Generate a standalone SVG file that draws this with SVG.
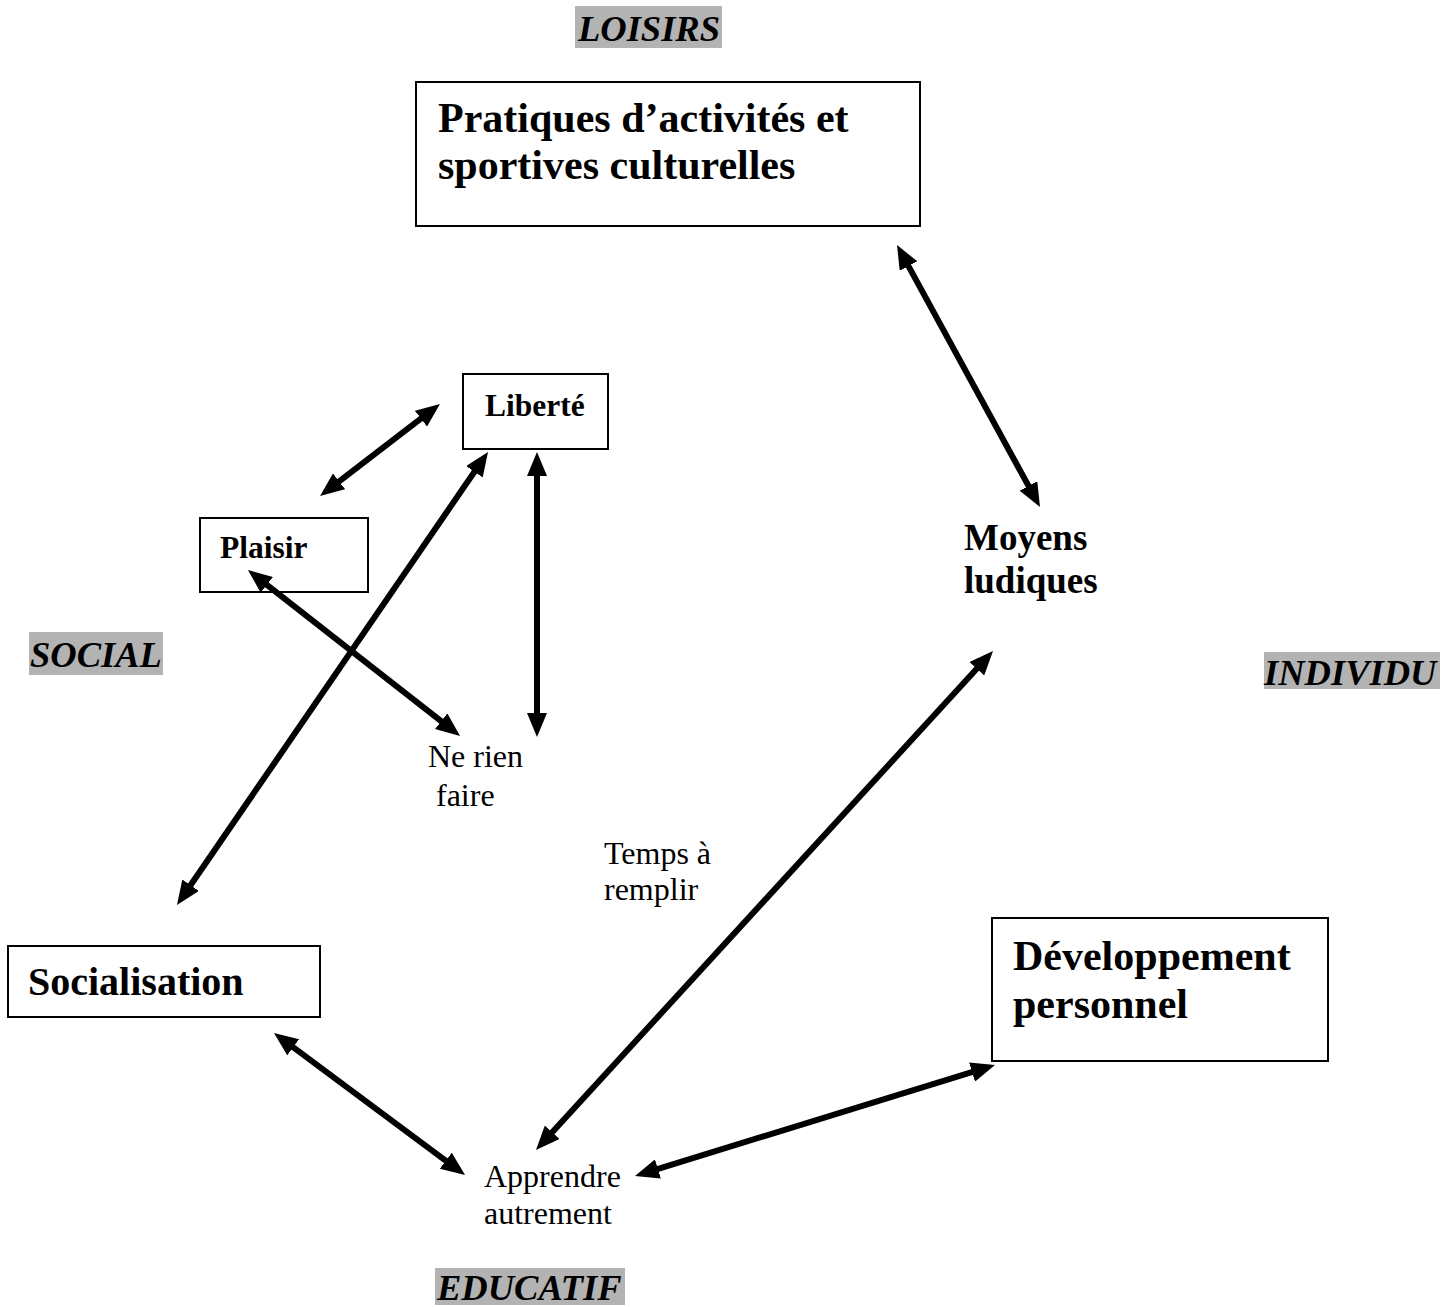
<svg xmlns="http://www.w3.org/2000/svg" width="1454" height="1307" viewBox="0 0 1454 1307">
<defs>
<style>
.box{fill:#fff;stroke:#000;stroke-width:2}
.hl{fill:#b3b3b3}
.cat{font-family:"Liberation Serif",serif;font-weight:bold;font-style:italic;font-size:36.5px;fill:#000}
.big{font-family:"Liberation Serif",serif;font-weight:bold;font-size:42px;fill:#000}
.mid{font-family:"Liberation Serif",serif;font-weight:bold;font-size:37px;fill:#000}
.sm{font-family:"Liberation Serif",serif;font-weight:bold;font-size:31.5px;fill:#000}
.reg{font-family:"Liberation Serif",serif;font-size:32px;fill:#000}
.arr{stroke:#000;stroke-width:6;fill:none;marker-start:url(#ah);marker-end:url(#ah)}
</style>
<marker id="ah" viewBox="0 0 24 20" refX="4" refY="10" markerWidth="24" markerHeight="20" markerUnits="userSpaceOnUse" orient="auto-start-reverse">
<path d="M0,0 L24,10 L0,20 z" fill="#000"/>
</marker>
</defs>
<rect width="1454" height="1307" fill="#fff"/>
<g id="cat-loisirs"><rect class="hl" x="575" y="6" width="147" height="42"/><text class="cat" x="578" y="41">LOISIRS</text></g>
<g id="cat-social"><rect class="hl" x="29" y="632" width="134" height="43"/><text class="cat" x="30" y="667">SOCIAL</text></g>
<g id="cat-individu"><rect class="hl" x="1264" y="652" width="176" height="37"/><text class="cat" x="1264" y="685">INDIVIDU</text></g>
<g id="cat-educatif"><rect class="hl" x="435" y="1268" width="190" height="37"/><text class="cat" x="437" y="1300">EDUCATIF</text></g>
<g id="n-pratiques"><rect class="box" x="416" y="82" width="504" height="144"/><text class="big" x="438" y="132">Pratiques d’activités et</text><text class="big" x="438" y="179">sportives culturelles</text></g>
<g id="n-liberte"><rect class="box" x="463" y="374" width="145" height="75"/><text class="sm" x="485" y="416">Liberté</text></g>
<g id="n-plaisir"><rect class="box" x="200" y="518" width="168" height="74"/><text class="sm" x="220" y="558">Plaisir</text></g>
<g id="n-moyens"><text class="mid" x="964" y="550">Moyens</text><text class="mid" x="964" y="593">ludiques</text></g>
<g id="n-nerien"><text class="reg" x="428" y="767">Ne rien</text><text class="reg" x="436" y="806">faire</text></g>
<g id="n-temps"><text class="reg" x="604" y="864">Temps à</text><text class="reg" x="604" y="900">remplir</text></g>
<g id="n-socialisation"><rect class="box" x="8" y="946" width="312" height="71"/><text class="big" x="28" y="995" style="font-size:40px">Socialisation</text></g>
<g id="n-developpement"><rect class="box" x="992" y="918" width="336" height="143"/><text class="big" x="1013" y="970">Développement</text><text class="big" x="1013" y="1018">personnel</text></g>
<g id="n-apprendre"><text class="reg" x="484" y="1187">Apprendre</text><text class="reg" x="484" y="1224">autrement</text></g>
<g id="connectors">
<line class="arr" x1="906.6" y1="262.6" x2="1030.4" y2="489.4"/>
<line class="arr" x1="424.1" y1="416.2" x2="335.9" y2="483.8"/>
<line class="arr" x1="476.7" y1="468.5" x2="188.3" y2="888.5"/>
<line class="arr" x1="537" y1="472" x2="537" y2="717"/>
<line class="arr" x1="263.7" y1="582.3" x2="444.3" y2="723.7"/>
<line class="arr" x1="979.5" y1="665.8" x2="549.5" y2="1135.2"/>
<line class="arr" x1="290" y1="1044.9" x2="449" y2="1163.1"/>
<line class="arr" x1="654.1" y1="1170.1" x2="975.9" y2="1070.9"/>
</g>
</svg>
